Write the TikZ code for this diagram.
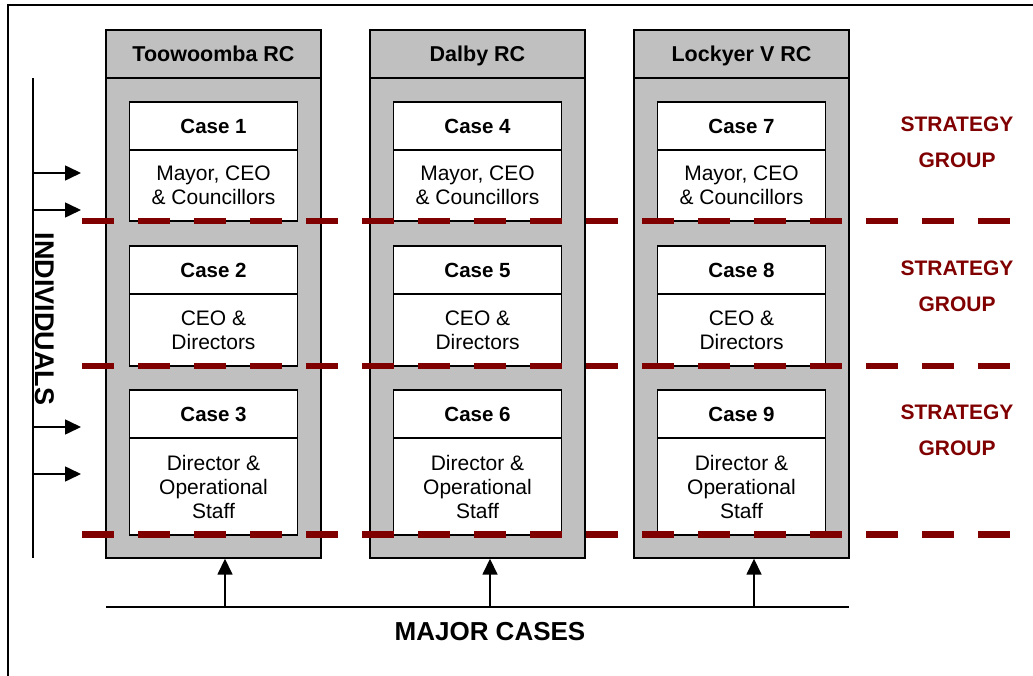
\documentclass[tikz,border=0pt]{standalone}
\usepackage{fontspec}
\setmainfont{Liberation Sans}
\usetikzlibrary{arrows.meta}
\definecolor{boxgray}{HTML}{C0C0C0}
\definecolor{darkred}{HTML}{800000}
\tikzset{
  colbox/.style={draw=black, line width=1.4pt, fill=boxgray, minimum width=215pt, minimum height=528pt, inner sep=0pt},
  colhead/.style={draw=black, line width=1.4pt, fill=boxgray, minimum width=215pt, minimum height=48pt, inner sep=0pt, text height=17pt, text depth=2pt, font=\fontsize{21.5}{24}\selectfont\bfseries},
  casehead/.style={draw=black, line width=1.2pt, fill=white, minimum width=168pt, minimum height=48pt, inner sep=0pt, text height=17pt, text depth=2pt, font=\fontsize{20.5}{24}\selectfont\bfseries},
  casebody/.style={draw=black, line width=1.2pt, fill=white, minimum width=168pt, inner sep=0pt, align=center, font=\fontsize{21}{24}\selectfont},
  level/.style={draw=darkred, line width=6.8pt, dash pattern=on 32pt off 24pt},
  arr/.style={line width=1.6pt, -{Triangle[length=16pt,width=15pt]}},
  plain/.style={line width=1.6pt},
  strat/.style={text=darkred, align=center, font=\fontsize{21}{36}\selectfont\bfseries},
}
\begin{document}
\begin{tikzpicture}[x=1pt, y=-1pt]
\useasboundingbox (0,0) rectangle (1033,676);
% outer frame
\draw[line width=1.5pt] (8,676) -- (8,5) -- (1033,5);
% columns
\foreach \i/\cx/\name in {1/213.5/Toowoomba RC, 2/477.5/Dalby RC, 3/741.5/Lockyer V RC} {
  \node[colbox] (col\i) at (\cx,294) {};
  \node[colhead] (head\i) at (\cx,54) {\name};
}
% cases
\foreach \i/\cx/\a/\b/\c in {1/213.5/1/2/3, 2/477.5/4/5/6, 3/741.5/7/8/9} {
  \node[casehead] (case\a) at (\cx,126) {Case \a};
  \node[casebody, minimum height=71pt] (body\a) at (\cx,185.5) {Mayor, CEO\\\& Councillors};
  \node[casehead] (case\b) at (\cx,270) {Case \b};
  \node[casebody, minimum height=72pt] (body\b) at (\cx,330) {CEO \&\\Directors};
  \node[casehead] (case\c) at (\cx,414) {Case \c};
  \node[casebody, minimum height=97pt] (body\c) at (\cx,486.5) {Director \&\\Operational\\Staff};
}
% level lines
\coordinate (l1a) at (82,221); \coordinate (l1b) at (1012,221);
\coordinate (l2a) at (82,366); \coordinate (l2b) at (1012,366);
\coordinate (l3a) at (82,534.5); \coordinate (l3b) at (1012,534.5);
\draw[level] (l1a) -- (l1b);
\draw[level] (l2a) -- (l2b);
\draw[level] (l3a) -- (l3b);
% strategy labels
\node[strat] (sg1) at (957,142) {STRATEGY\\GROUP};
\node[strat] (sg2) at (957,286) {STRATEGY\\GROUP};
\node[strat] (sg3) at (957,430) {STRATEGY\\GROUP};
% individuals
\coordinate (ind1) at (33,78);
\coordinate (ind2) at (33,558);
\draw[plain] (ind1) -- (ind2);
\foreach \y [count=\k] in {173,210,427,474} {
  \coordinate (ia\k) at (33,\y);
  \coordinate (ib\k) at (81,\y);
  \draw[arr] (ia\k) -- (ib\k);
}
\node[rotate=-90, font=\fontsize{27}{30}\selectfont\bfseries] (indiv) at (45,319) {INDIVIDUALS};
% major cases
\coordinate (mc1) at (106,607);
\coordinate (mc2) at (849,607);
\draw[plain] (mc1) -- (mc2);
\foreach \k/\x in {1/225, 2/490, 3/754} {
  \coordinate (mb\k) at (\x,607);
  \coordinate (mt\k) at (\x,558.7);
  \draw[arr] (mb\k) -- (mt\k);
}
\node[font=\fontsize{26}{30}\selectfont\bfseries] (major) at (490,632) {MAJOR CASES};
\end{tikzpicture}
\end{document}
